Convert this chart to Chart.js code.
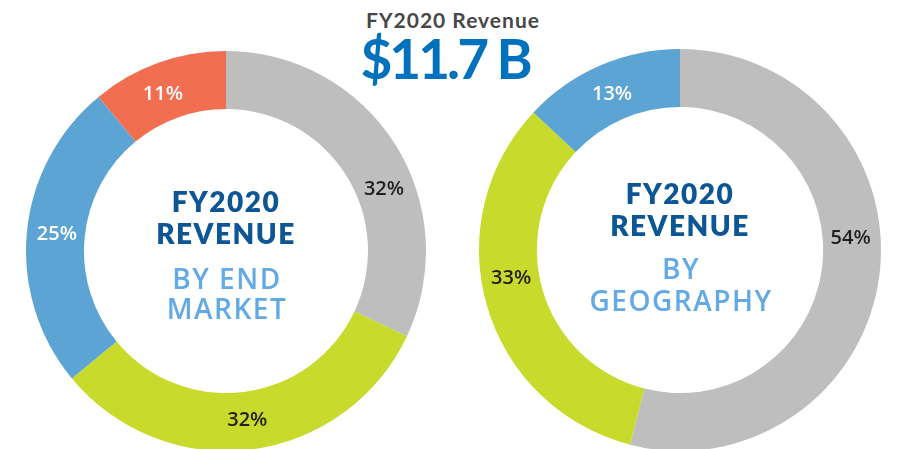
<!DOCTYPE html>
<html><head><meta charset="utf-8">
<script src="https://cdn.jsdelivr.net/npm/chart.js@4.4.0/dist/chart.umd.min.js"></script>
<style>
html,body{margin:0;padding:0;width:906px;height:449px;overflow:hidden;background:#fff;font-family:Lato,"Open Sans",sans-serif;}
canvas{position:absolute;}
#c1{left:26px;top:51px;}
#c2{left:479px;top:49px;}
.hd{position:absolute;left:0;width:906px;text-align:center;white-space:nowrap;z-index:5;}
#t1{top:9px;left:0px;font-size:21px;line-height:21px;color:#474747;letter-spacing:1px;font-weight:700;font-family:Lato,sans-serif;}
#t2{top:31px;left:-8px;font-size:55px;line-height:55px;color:#0071bc;letter-spacing:-3px;font-weight:700;}
</style></head>
<body>
<div class="hd" id="t1">FY2020 Revenue</div>
<div class="hd" id="t2">$11.7 B</div>
<canvas id="c1" width="400" height="400"></canvas>
<canvas id="c2" width="402" height="402"></canvas>
<script>
// ---- data ----
const endMarketLabels = ['End market A', 'End market B', 'End market C', 'End market D'];
const endMarketValues = [32, 32, 25, 11];
const geographyLabels = ['Region A', 'Region B', 'Region C'];
const geographyValues = [54, 33, 13];

// ---- styles ----
const endMarketColors = ['#bebebe', '#c8da2c', '#5ca4d3', '#f26e51'];
const endMarketLabelColors = ['#231f20', '#231f20', '#ffffff', '#ffffff'];
const endMarketLabelShift = [10.7, 0, 0.5, -2];
const geographyColors = ['#bebebe', '#c8da2c', '#5ca4d3'];
const geographyLabelColors = ['#231f20', '#231f20', '#ffffff'];
const geographyLabelShift = [-11.4, 7, 0];

const sliceLabelPlugin = {
  id: 'sliceLabels',
  afterDatasetsDraw(chart, args, opts) {
    const ctx = chart.ctx;
    const meta = chart.getDatasetMeta(0);
    const data = chart.data.datasets[0].data;
    ctx.save();
    ctx.font = '600 20px "Open Sans", Lato, sans-serif';
    ctx.letterSpacing = '0px';
    ctx.textAlign = 'center';
    ctx.textBaseline = 'middle';
    meta.data.forEach((arc, i) => {
      const p = arc.getProps(['startAngle', 'endAngle', 'innerRadius', 'outerRadius', 'x', 'y'], true);
      const a = (p.startAngle + p.endAngle) / 2 + (opts.shift[i] || 0) * Math.PI / 180;
      const r = (p.innerRadius + p.outerRadius) / 2 - 1;
      ctx.fillStyle = opts.colors[i];
      ctx.fillText(data[i] + '%', p.x + Math.cos(a) * r, p.y + Math.sin(a) * r + 1);
    });
    ctx.restore();
  }
};

const centerTextPlugin = {
  id: 'centerText',
  afterDraw(chart, args, opts) {
    const ctx = chart.ctx;
    const meta = chart.getDatasetMeta(0);
    const arc = meta.data[0];
    if (!arc) return;
    const cx = arc.x, cy = arc.y;
    ctx.save();
    ctx.textAlign = 'center';
    ctx.textBaseline = 'alphabetic';
    opts.lines.forEach(l => {
      ctx.font = l.font;
      ctx.fillStyle = l.color;
      ctx.letterSpacing = l.ls || '0px';
      ctx.fillText(l.text, cx + (l.dx || 0), cy + l.dy);
    });
    ctx.restore();
  }
};

const DARK = '#0c5696', LIGHT = '#62a9e6';
const HEAVY = '800 28px Lato, "Open Sans", sans-serif';
const MED = '600 28px "Open Sans", Lato, sans-serif';

function makeChart(id, labels, values, colors, labelColors, shift, lines, cutout) {
  return new Chart(document.getElementById(id), {
    type: 'doughnut',
    data: { labels, datasets: [{ data: values, backgroundColor: colors, borderWidth: 0, hoverOffset: 0, offset: 0 }] },
    options: {
      responsive: false, animation: false, cutout,
      layout: { padding: 0 },
      plugins: {
        legend: { display: false }, tooltip: { enabled: false },
        sliceLabels: { colors: labelColors, shift },
        centerText: { lines }
      },
      events: []
    },
    plugins: [sliceLabelPlugin, centerTextPlugin]
  });
}

makeChart('c1', endMarketLabels, endMarketValues, endMarketColors, endMarketLabelColors, endMarketLabelShift, [
  { text: 'FY2020', dy: -39, font: HEAVY, color: DARK, ls: '1.5px' },
  { text: 'REVENUE', dy: -7, font: HEAVY, color: DARK, ls: '1.5px' },
  { text: 'BY END', dy: 38, dx: 1, font: MED, color: LIGHT, ls: '1.5px' },
  { text: 'MARKET', dy: 68, dx: 1, font: MED, color: LIGHT, ls: '1.5px' }
], '71%');

makeChart('c2', geographyLabels, geographyValues, geographyColors, geographyLabelColors, geographyLabelShift, [
  { text: 'FY2020', dy: -46, font: HEAVY, color: DARK, ls: '1.5px' },
  { text: 'REVENUE', dy: -14, font: HEAVY, color: DARK, ls: '1.5px' },
  { text: 'BY', dy: 29, dx: 1, font: MED, color: LIGHT, ls: '1.5px' },
  { text: 'GEOGRAPHY', dy: 61, dx: 1, font: MED, color: LIGHT, ls: '1.5px' }
], '71.2%');
</script>
</body></html>
